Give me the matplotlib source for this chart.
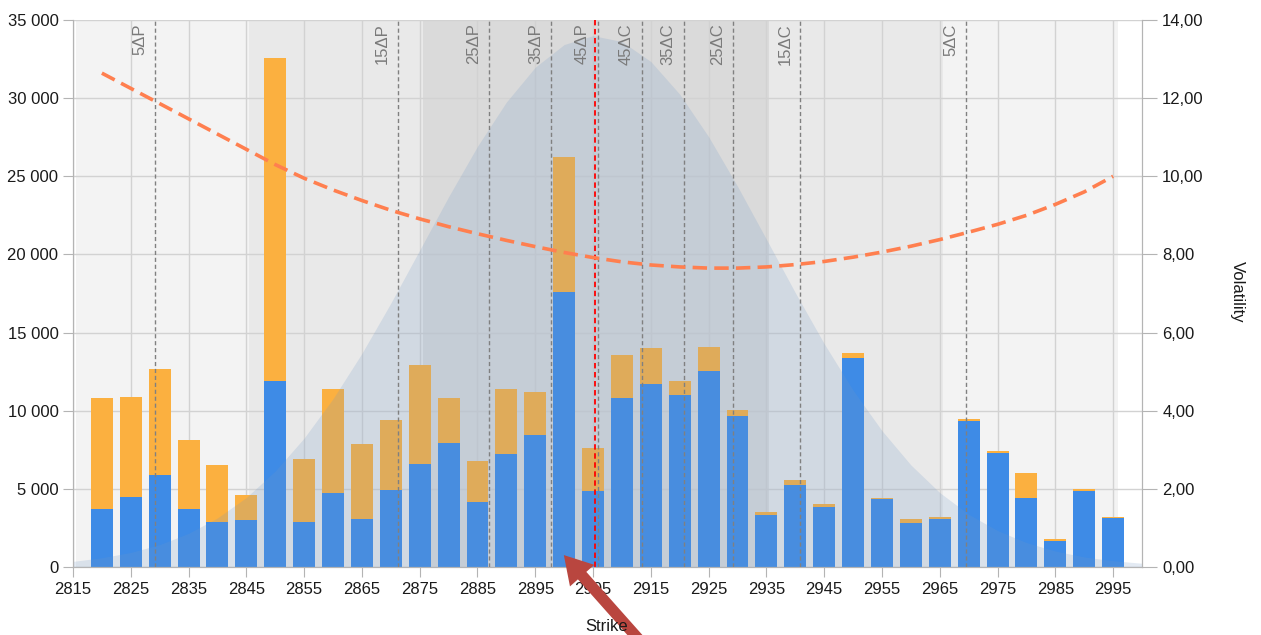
import matplotlib
matplotlib.use("Agg")
import matplotlib.pyplot as plt
from matplotlib.ticker import FuncFormatter, MultipleLocator

# open interest per strike (blue = lower part, orange = upper part)
strikes = [2820, 2825, 2830, 2835, 2840, 2845, 2850, 2855, 2860, 2865, 2870, 2875,
           2880, 2885, 2890, 2895, 2900, 2905, 2910, 2915, 2920, 2925, 2930, 2935,
           2940, 2945, 2950, 2955, 2960, 2965, 2970, 2975, 2980, 2985, 2990, 2995]
blue_oi = [3700, 4500, 5900, 3700, 2900, 3000, 11900, 2900, 4730, 3100, 4950, 6600,
           7930, 4140, 7210, 8420, 17600, 4860, 10790, 11730, 11000, 12540, 9660, 3330,
           5270, 3860, 13370, 4330, 2815, 3090, 9360, 7310, 4440, 1660, 4860, 3110]
orange_oi = [7100, 6400, 6750, 4400, 3600, 1620, 20700, 4000, 6660, 4800, 4480, 6350,
             2870, 2640, 4180, 2780, 8630, 2730, 2770, 2260, 920, 1560, 410, 170,
             300, 150, 300, 110, 275, 90, 90, 110, 1550, 110, 110, 90]

# implied volatility smile
volatility = [12.64, 12.25, 11.86, 11.47, 11.08, 10.69, 10.30, 9.95, 9.65, 9.38, 9.13, 8.91,
              8.71, 8.53, 8.36, 8.20, 8.05, 7.92, 7.81, 7.73, 7.68, 7.65, 7.65, 7.68,
              7.74, 7.82, 7.93, 8.06, 8.21, 8.38, 8.57, 8.77, 9.00, 9.28, 9.60, 10.00]

# price distribution (left axis units)
dist_strikes = list(range(2815, 3001, 5))
dist_values = [360, 590, 930, 1430, 2150, 3140, 4450, 6140, 8250, 10770, 13670, 16880,
               20280, 23690, 26920, 29750, 31980, 33430, 34000, 33620, 32340, 30250, 27530,
               24360, 20970, 17550, 14290, 11310, 8720, 6530, 4760, 3370, 2330, 1560,
               1020, 640, 400, 240]

# standard deviation bands
bands = [(2815.5, 2845.5, "#f3f3f3"), (2845.5, 2875.5, "#e9e9e9"),
         (2875.5, 2935.5, "#dadada"), (2935.5, 2965.5, "#e9e9e9"),
         (2965.5, 2995.8, "#f3f3f3")]

delta_labels = ["5ΔP", "15ΔP", "25ΔP", "35ΔP", "45ΔP", "45ΔC", "35ΔC", "25ΔC", "15ΔC", "5ΔC"]
delta_strikes = [2829.2, 2871.2, 2887.0, 2897.8, 2905.8, 2913.4, 2920.7, 2929.3, 2940.9, 2969.6]
spot = 2905.3
x_ticks = list(range(2815, 3000, 10))

plt.rcParams["font.family"] = ["Liberation Sans", "DejaVu Sans"]

fig = plt.figure(figsize=(12.61, 6.35), dpi=100)
ax = fig.add_axes([73 / 1261, 68 / 635, (1142 - 73) / 1261, (567 - 20) / 635])
ax2 = ax.twinx()

for x0, x1, c in bands:
    ax.axvspan(x0, x1, color=c, lw=0, zorder=0.1)

ax.set_axisbelow(True)
ax.grid(True, color="#d2d2d2", lw=1)

ax.bar(strikes, blue_oi, width=3.8, color="#3e8be6", zorder=2)
ax.bar(strikes, orange_oi, width=3.8, bottom=blue_oi, color="#fbb040", zorder=2)

ax.fill_between(dist_strikes, dist_values, color="#7399c6", alpha=0.2, lw=0, zorder=3)

for lab, xs in zip(delta_labels, delta_strikes):
    ax.axvline(xs, color="#808080", lw=1, ls=(0, (3, 2)), zorder=4)
    ax.text(xs - 2.7, 34800, lab, rotation=90, ha="center", va="top",
            fontsize=12, color="#7a7a7a", zorder=5)
ax.axvline(spot, color="#ff0000", lw=1.3, ls=(0, (3, 2)), zorder=4)

ax.set_xlim(2815, 3000)
ax.set_ylim(0, 35000)
ax.set_xticks(x_ticks)
ax.yaxis.set_major_locator(MultipleLocator(5000))
ax.yaxis.set_major_formatter(FuncFormatter(lambda v, p: f"{int(v):,}".replace(",", " ")))

ax2.plot(strikes, volatility, color="#ff7f4f", lw=2.6, ls=(0, (4, 2)), zorder=6)
ax2.set_ylim(0, 14)
ax2.yaxis.set_major_locator(MultipleLocator(2))
ax2.yaxis.set_major_formatter(FuncFormatter(lambda v, p: f"{v:.2f}".replace(".", ",")))

for a in (ax, ax2):
    for s in a.spines.values():
        s.set_color("#b4b4b4")
    a.spines["top"].set_visible(False)
ax.tick_params(axis="both", labelsize=12, colors="#b4b4b4", labelcolor="#1a1a1a", length=7)
ax2.tick_params(axis="y", labelsize=12, colors="#b4b4b4", labelcolor="#1a1a1a", length=11)

fig.text(607 / 1261, 16 / 635, "Strike", ha="center", va="top", fontsize=12, color="#1a1a1a")
fig.text(1237 / 1261, 1 - 292 / 635, "Volatility", rotation=270, ha="center", va="center",
         fontsize=12, color="#1a1a1a")

fig.patches.append(matplotlib.patches.FancyArrowPatch(
    (642, -8), (562, 82), transform=None, arrowstyle="simple,head_length=1.1,head_width=1.3,tail_width=0.45",
    mutation_scale=18, color="#b9463f", lw=0))

fig.savefig("out.png", dpi=100)
